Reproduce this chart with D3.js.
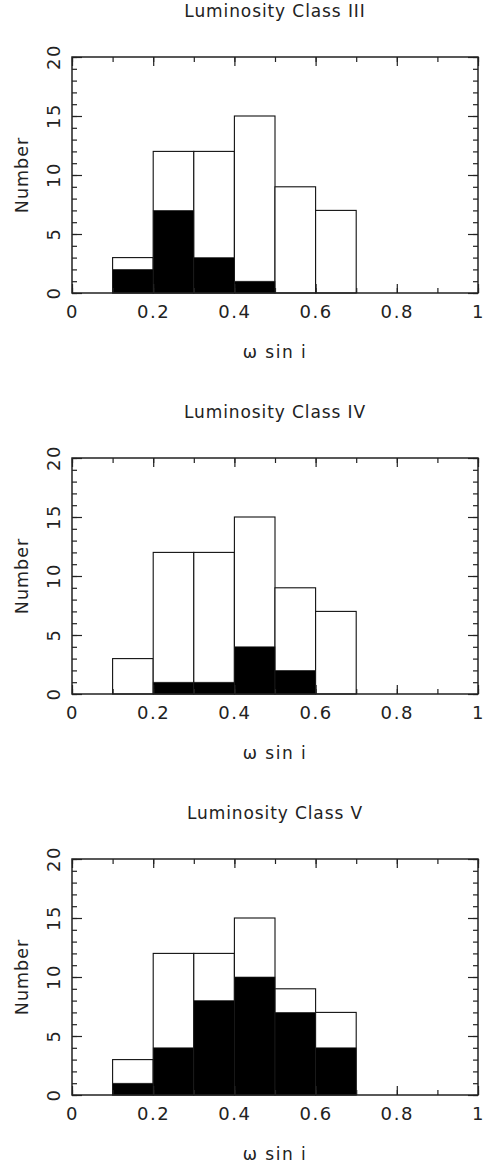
<!DOCTYPE html>
<html>
<head>
<meta charset="utf-8">
<script src="https://cdn.jsdelivr.net/npm/d3@7"></script>
<style>
  html, body { margin: 0; padding: 0; background: #fff; }
  svg text { font-family: "DejaVu Sans", sans-serif; fill: #222; }
</style>
</head>
<body>
<svg id="chart" width="487" height="1166"></svg>
<script>
// ---- data ----
const binStarts = [0.1, 0.2, 0.3, 0.4, 0.5, 0.6];
const binWidth = 0.1;
const totalCounts = [3, 12, 12, 15, 9, 7];
const titles = ["Luminosity Class III", "Luminosity Class IV", "Luminosity Class V"];
const classIII = [2, 7, 3, 1, 0, 0];
const classIV = [0, 1, 1, 4, 2, 0];
const classV = [1, 4, 8, 10, 7, 4];
const subsetCounts = [classIII, classIV, classV];
const xTickValues = [0, 0.2, 0.4, 0.6, 0.8, 1];
const xTickLabels = ["0", "0.2", "0.4", "0.6", "0.8", "1"];
const yTickValues = [0, 5, 10, 15, 20];
const yTickLabels = ["0", "5", "10", "15", "20"];
const xLabel = "ω sin i";
const yLabel = "Number";

// ---- layout ----
const svg = d3.select("#chart");
const left = 72, right = 478, top0 = 57, bottom0 = 293;
const panelOffsets = [0, 401, 802];

const x = d3.scaleLinear().domain([0, 1]).range([left, right]);
const y = d3.scaleLinear().domain([0, 20]).range([bottom0 - top0, 0]);
const plotH = bottom0 - top0;

titles.forEach((title, p) => {
  const g = svg.append("g").attr("transform", `translate(0,${top0 + panelOffsets[p]})`);

  // title
  g.append("text")
    .attr("x", (left + right) / 2)
    .attr("y", 17 - top0)
    .attr("text-anchor", "middle")
    .attr("font-size", 17)
    .attr("letter-spacing", 0.9)
    .text(title);

  // total histogram (outline)
  g.selectAll("rect.total")
    .data(binStarts)
    .join("rect")
    .attr("class", "total")
    .attr("x", d => x(d))
    .attr("width", d => x(d + binWidth) - x(d))
    .attr("y", (d, i) => y(totalCounts[i]))
    .attr("height", (d, i) => plotH - y(totalCounts[i]))
    .attr("fill", "#fff")
    .attr("stroke", "#111")
    .attr("stroke-width", 1.1);

  // subset histogram (filled)
  g.selectAll("rect.sub")
    .data(binStarts)
    .join("rect")
    .attr("class", "sub")
    .attr("x", d => x(d))
    .attr("width", d => x(d + binWidth) - x(d))
    .attr("y", (d, i) => y(subsetCounts[p][i]))
    .attr("height", (d, i) => plotH - y(subsetCounts[p][i]))
    .attr("fill", "#000")
    .attr("stroke", "#222")
    .attr("stroke-width", (d, i) => subsetCounts[p][i] > 0 ? 0.6 : 0);

  // axes: minor ticks
  const minorX = d3.range(0, 1.0001, 0.1);
  const minorY = d3.range(0, 20.001, 1);
  g.append("g").attr("transform", `translate(0,${plotH})`)
    .call(d3.axisBottom(x).tickValues(minorX).tickSizeInner(-5).tickSizeOuter(0).tickFormat(""));
  g.append("g")
    .call(d3.axisTop(x).tickValues(minorX).tickSizeInner(-5).tickSizeOuter(0).tickFormat(""));
  g.append("g").attr("transform", `translate(${left},0)`)
    .call(d3.axisLeft(y).tickValues(minorY).tickSizeInner(-5).tickSizeOuter(0).tickFormat(""));
  g.append("g").attr("transform", `translate(${right},0)`)
    .call(d3.axisRight(y).tickValues(minorY).tickSizeInner(-5).tickSizeOuter(0).tickFormat(""));

  // major ticks + labels
  const bottomAxis = g.append("g").attr("transform", `translate(0,${plotH})`)
    .call(d3.axisBottom(x).tickValues(xTickValues).tickSizeInner(-9).tickSizeOuter(0)
      .tickPadding(12).tickFormat((d, i) => xTickLabels[i]));
  bottomAxis.selectAll("text")
    .attr("font-size", 18).attr("letter-spacing", 1.6)
    .attr("font-family", "DejaVu Sans").attr("fill", "#222");
  g.append("g")
    .call(d3.axisTop(x).tickValues(xTickValues).tickSizeInner(-9).tickSizeOuter(0).tickFormat(""));
  g.append("g").attr("transform", `translate(${left},0)`)
    .call(d3.axisLeft(y).tickValues(yTickValues).tickSizeInner(-10).tickSizeOuter(0).tickFormat(""));
  g.append("g").attr("transform", `translate(${right},0)`)
    .call(d3.axisRight(y).tickValues(yTickValues).tickSizeInner(-10).tickSizeOuter(0).tickFormat(""));

  // y tick labels (rotated)
  g.selectAll("text.ylab")
    .data(yTickValues)
    .join("text")
    .attr("class", "ylab")
    .attr("transform", d => `translate(60,${y(d)}) rotate(-90)`)
    .attr("text-anchor", "middle")
    .attr("font-size", 18)
    .attr("letter-spacing", 1.6)
    .text((d, i) => yTickLabels[i]);

  // frame
  g.append("rect")
    .attr("x", left).attr("y", 0)
    .attr("width", right - left).attr("height", plotH)
    .attr("fill", "none").attr("stroke", "#222").attr("stroke-width", 1.5);

  g.selectAll(".domain").remove();
  g.selectAll(".tick line").attr("stroke", "#222").attr("stroke-width", 1.2);

  // axis labels
  g.append("text")
    .attr("x", (left + right) / 2)
    .attr("y", 358 - top0)
    .attr("text-anchor", "middle")
    .attr("font-size", 17)
    .attr("letter-spacing", 1.5)
    .text(xLabel);

  g.append("text")
    .attr("transform", `translate(28,${plotH / 2}) rotate(-90)`)
    .attr("text-anchor", "middle")
    .attr("font-size", 17.5)
    .attr("letter-spacing", 1)
    .text(yLabel);
});
</script>
</body>
</html>
